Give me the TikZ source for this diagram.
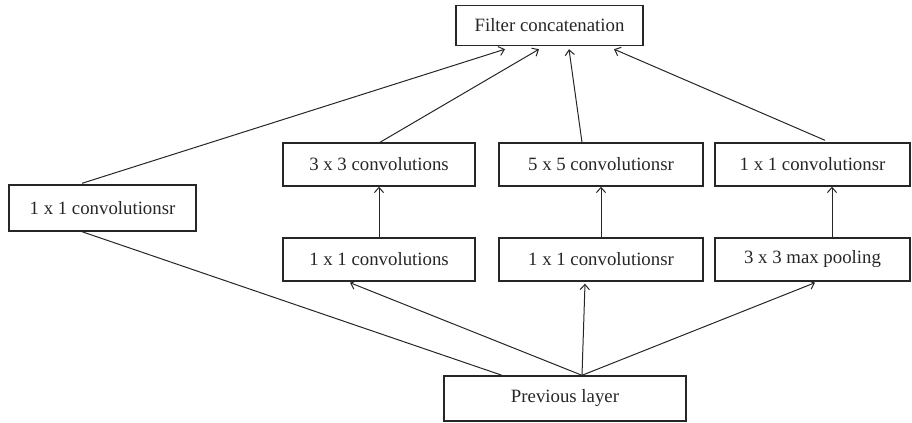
\documentclass[tikz,border=0pt]{standalone}
\usepackage{fontspec}
\setmainfont{Liberation Serif}
\usetikzlibrary{arrows.meta,calc}
\begin{document}
\begin{tikzpicture}[x=0.5pt,y=-0.5pt,
  blk/.style={draw=black!85,line width=0.7pt,rectangle,inner sep=0pt,
    font=\fontsize{9.4pt}{11pt}\selectfont,text=black!85},
  con/.style={draw=black!85,line width=0.5pt},
  arr/.style={con,-{Straight Barb[length=2.6pt,width=4.6pt,line width=0.5pt]}}]
\useasboundingbox (0,0) rectangle (912,423);
% boxes (centres in pixel units, sizes in pt = px/2)
\node[blk,minimum width=93.5pt,minimum height=20pt] (fc) at (549.5,25.5) {Filter concatenation};
\node[blk,minimum width=93.5pt,minimum height=23pt] (L) at (102.5,208) {1 x 1 convolutionsr};
\node[blk,minimum width=96pt,minimum height=21.5pt] (c33) at (379,164.5) {3 x 3 convolutions};
\node[blk,minimum width=102pt,minimum height=21.5pt] (c55) at (601,164.5) {5 x 5 convolutionsr};
\node[blk,minimum width=97.5pt,minimum height=21.5pt] (r11) at (812.5,164.5) {1 x 1 convolutionsr};
\node[blk,minimum width=96pt,minimum height=21.5pt] (l11) at (379,259.5) {1 x 1 convolutions};
\node[blk,minimum width=102pt,minimum height=21.5pt] (m11) at (601,259.5) {1 x 1 convolutionsr};
\node[blk,minimum width=97.5pt,minimum height=21.5pt] (mp) at (812.5,259.5) {3 x 3 max pooling};
\node[blk,minimum width=121pt,minimum height=22.5pt] (prev) at (565,398.5) {Previous layer};
% connectors to filter concatenation
\draw[arr] ($(L.north)+(-20.5,-1)$) -- ($(fc.south)+(-44.5,3)$);
\draw[arr] ($(c33.north)+(1,0)$) -- ($(fc.south)+(-10.5,3)$);
\draw[arr] ($(c55.north)+(-19,0)$) -- ($(fc.south)+(19.5,3)$);
\draw[arr] ($(r11.north)+(12.5,-2)$) -- ($(fc.south)+(64.5,3)$);
% vertical arrows
\draw[arr] (l11.north) -- (c33.south);
\draw[arr] (m11.north) -- (c55.south);
\draw[arr] ($(mp.north)+(19.5,0)$) -- ($(r11.south)+(19.5,0)$);
% from previous layer
\draw[con] ($(L.south)+(-20.5,0)$) -- ($(prev.north)+(-63,0)$);
\draw[arr] ($(prev.north)+(17,0)$) -- ($(l11.south)+(-29,1)$);
\draw[arr] ($(prev.north)+(17,0)$) -- ($(m11.south)+(-16,2)$);
\draw[arr] ($(prev.north)+(17,0)$) -- ($(mp.south)+(2.5,1)$);
\end{tikzpicture}
\end{document}
